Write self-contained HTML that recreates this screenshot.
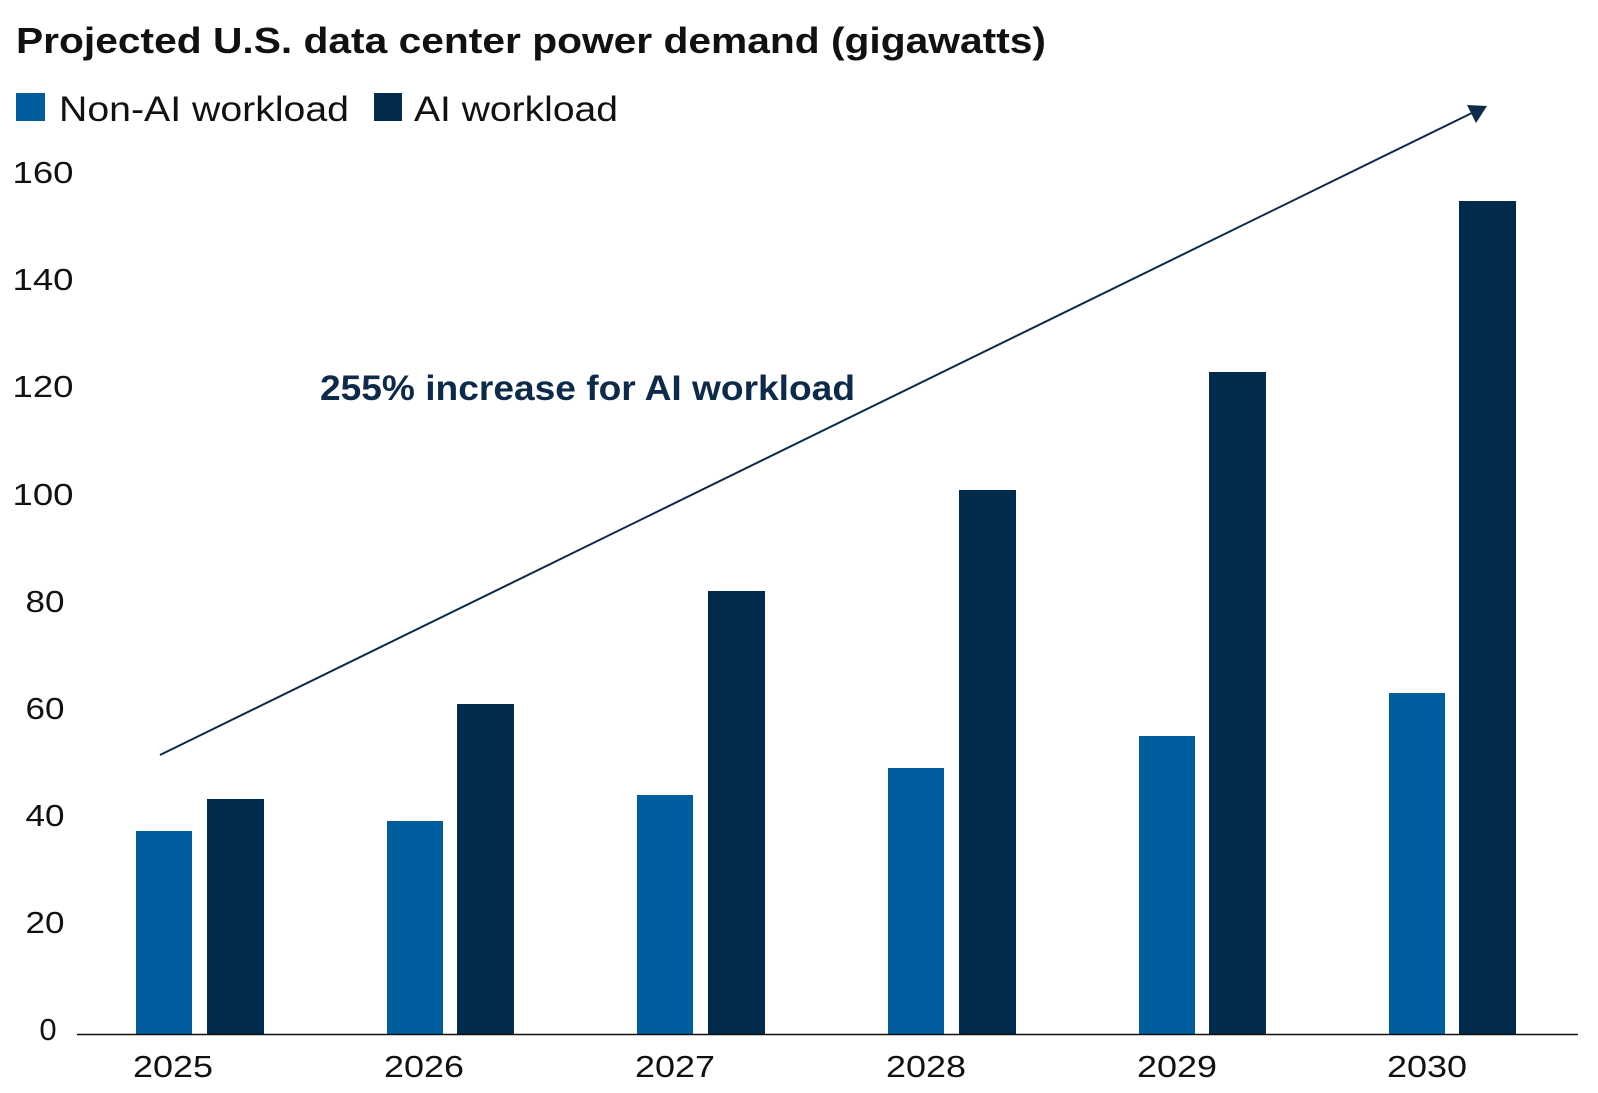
<!DOCTYPE html>
<html><head><meta charset="utf-8"><style>
html,body{margin:0;padding:0;background:#fff;}
svg{display:block;font-family:"Liberation Sans",sans-serif;}
</style></head><body>
<svg width="1598" height="1093" viewBox="0 0 1598 1093">
<text x="16" y="53" font-size="36" font-weight="bold" fill="#111" textLength="1030" lengthAdjust="spacingAndGlyphs">Projected U.S. data center power demand (gigawatts)</text>
<rect x="16" y="93" width="29" height="28" fill="#005e9e"/>
<text x="59" y="121" font-size="35" fill="#111" textLength="290" lengthAdjust="spacingAndGlyphs">Non-AI workload</text>
<rect x="374" y="93" width="28" height="28" fill="#002b4c"/>
<text x="414" y="121" font-size="35" fill="#111" textLength="204" lengthAdjust="spacingAndGlyphs">AI workload</text>
<g font-size="31" fill="#111" text-anchor="middle">
<text x="48" y="1040">0</text>
<text x="45" y="933" textLength="39" lengthAdjust="spacingAndGlyphs">20</text>
<text x="45" y="826" textLength="39" lengthAdjust="spacingAndGlyphs">40</text>
<text x="45" y="719" textLength="39" lengthAdjust="spacingAndGlyphs">60</text>
<text x="45" y="612" textLength="39" lengthAdjust="spacingAndGlyphs">80</text>
<text x="43" y="505" textLength="61" lengthAdjust="spacingAndGlyphs">100</text>
<text x="43" y="397" textLength="61" lengthAdjust="spacingAndGlyphs">120</text>
<text x="43" y="290" textLength="61" lengthAdjust="spacingAndGlyphs">140</text>
<text x="43" y="183" textLength="61" lengthAdjust="spacingAndGlyphs">160</text>
</g>
<g fill="#005e9e">
<rect x="136" y="831" width="56" height="203"/>
<rect x="387" y="821" width="56" height="213"/>
<rect x="637" y="795" width="56" height="239"/>
<rect x="888" y="768" width="56" height="266"/>
<rect x="1139" y="736" width="56" height="298"/>
<rect x="1389" y="693" width="56" height="341"/>
</g>
<g fill="#002b4c">
<rect x="207" y="799" width="57" height="235"/>
<rect x="457" y="704" width="57" height="330"/>
<rect x="708" y="591" width="57" height="443"/>
<rect x="959" y="490" width="57" height="544"/>
<rect x="1209" y="372" width="57" height="662"/>
<rect x="1459" y="201" width="57" height="833"/>
</g>
<line x1="77" y1="1034.5" x2="1578" y2="1034.5" stroke="#111" stroke-width="1.5"/>
<g font-size="31" fill="#111" text-anchor="middle">
<text x="173" y="1077" textLength="80" lengthAdjust="spacingAndGlyphs">2025</text>
<text x="424" y="1077" textLength="80" lengthAdjust="spacingAndGlyphs">2026</text>
<text x="675" y="1077" textLength="80" lengthAdjust="spacingAndGlyphs">2027</text>
<text x="926" y="1077" textLength="80" lengthAdjust="spacingAndGlyphs">2028</text>
<text x="1177" y="1077" textLength="80" lengthAdjust="spacingAndGlyphs">2029</text>
<text x="1427" y="1077" textLength="80" lengthAdjust="spacingAndGlyphs">2030</text>
</g>
<line x1="160" y1="755" x2="1476" y2="111" stroke="#0d2a4a" stroke-width="2"/>
<polygon points="1487,106 1467,105 1476,123" fill="#0d2a4a"/>
<text x="320" y="400" font-size="35" font-weight="bold" fill="#0d2a4a" textLength="535" lengthAdjust="spacingAndGlyphs">255% increase for AI workload</text>
</svg>
</body></html>
